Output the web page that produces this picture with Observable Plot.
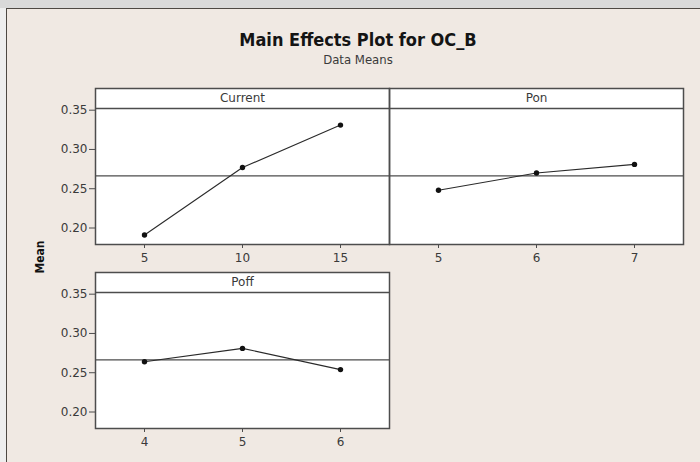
<!DOCTYPE html>
<html>
<head>
<meta charset="utf-8">
<script src="https://cdn.jsdelivr.net/npm/d3@7"></script>
<script src="https://cdn.jsdelivr.net/npm/@observablehq/plot@0.6"></script>
<style>
  html, body { margin: 0; padding: 0; }
  body { width: 700px; height: 462px; overflow: hidden; position: relative; background: #d9d9d9; font-family: "DejaVu Sans", sans-serif; }
  #leftstrip { position: absolute; left: 0; top: 8px; width: 6px; height: 454px; background: #eeeeee; }
  #panel { position: absolute; left: 6px; top: 8px; width: 700px; height: 460px; background: #f0e9e3; border-left: 1.5px solid #4d4843; border-top: 1.5px solid #4d4843; }
  #title { position: absolute; left: 0; width: 716px; top: 30px; text-align: center; font: bold 18px "DejaVu Sans Condensed", "DejaVu Sans", sans-serif; color: #141414; line-height: 20px; }
  #subtitle { position: absolute; left: 0; width: 716px; top: 53px; text-align: center; font: 13px "DejaVu Sans Condensed", "DejaVu Sans", sans-serif; color: #3a3a3a; line-height: 14px; }
  #ylabel { position: absolute; left: 40px; top: 257px; transform: translate(-50%, -50%) rotate(-90deg); font: bold 12px "DejaVu Sans Condensed", "DejaVu Sans", sans-serif; color: #111; white-space: nowrap; }
  #chart { position: absolute; left: 0; top: 70px; }
</style>
</head>
<body>
<div id="leftstrip"></div>
<div id="panel"></div>
<div id="title">Main Effects Plot for OC_B</div>
<div id="subtitle">Data Means</div>
<div id="ylabel">Mean</div>
<div id="chart"></div>
<script>
// ---- data ----
const factors = ["Current", "Pon", "Poff"];
const currentLevels = [5, 10, 15];
const currentMeans = [0.191, 0.277, 0.331];
const ponLevels = [5, 6, 7];
const ponMeans = [0.248, 0.270, 0.281];
const poffLevels = [4, 5, 6];
const poffMeans = [0.264, 0.281, 0.254];
const yTicks = [0.20, 0.25, 0.30, 0.35];

// panel placement (column, row) for each factor
const panelCols = ["a", "b", "a"];
const panelRows = ["top", "top", "bottom"];

const levelsByFactor = [currentLevels, ponLevels, poffLevels];
const meansByFactor = [currentMeans, ponMeans, poffMeans];

const rows = [];
factors.forEach((f, k) => {
  levelsByFactor[k].forEach((lv, i) => {
    rows.push({factor: f, col: panelCols[k], row: panelRows[k], idx: i, level: String(lv), mean: meansByFactor[k][i]});
  });
});
const strips = factors.map((f, k) => ({factor: f, col: panelCols[k], row: panelRows[k]}));
const grandMean = d3.mean(meansByFactor.flat());

const yDomain = [0.179, 0.3776];

const chart = Plot.plot({
  width: 700,
  height: 392,
  marginLeft: 94.5,
  marginRight: 17,
  marginTop: 17.3,
  marginBottom: 34.3,
  style: {background: "transparent", fontFamily: "DejaVu Sans, sans-serif", fontSize: "12px", color: "#3a3a3a"},
  x: {domain: [-0.5, 2.5], axis: null},
  y: {domain: yDomain, axis: null},
  fx: {domain: ["a", "b"], padding: 0, axis: null},
  fy: {domain: ["top", "bottom"], paddingInner: 0.154, paddingOuter: 0, axis: null},
  marks: [
    Plot.frame({fill: "white", stroke: null}),
    Plot.ruleY([yDomain[1]], {dy: 20, stroke: "#4d4d4d", strokeWidth: 1.3}),
    Plot.ruleY([grandMean], {stroke: "#4d4d4d", strokeWidth: 1.3}),
    Plot.line(rows, {x: "idx", y: "mean", fx: "col", fy: "row", z: "factor", stroke: "#2a2a2a", strokeWidth: 1.1}),
    Plot.dot(rows, {x: "idx", y: "mean", fx: "col", fy: "row", r: 2.7, fill: "#111", stroke: null}),
    Plot.text(strips, {fx: "col", fy: "row", text: "factor", frameAnchor: "top", lineAnchor: "middle", dy: 10, fill: "#3a3a3a", fontSize: 12}),
    Plot.ruleX(rows, {x: "idx", fx: "col", fy: "row", y1: () => yDomain[0], y2: () => yDomain[0], insetBottom: -4, stroke: "#4d4d4d"}),
    Plot.text(rows, {x: "idx", fx: "col", fy: "row", text: "level", frameAnchor: "bottom", lineAnchor: "middle", dy: 14, fill: "#3a3a3a", fontSize: 12}),
    Plot.axisY(yTicks, {tickFormat: ".2f", tickSize: 6, tickPadding: 2, label: null, fontSize: 12, color: "#3a3a3a", stroke: "#4d4d4d"}),
    Plot.frame({stroke: "#4d4d4d", strokeWidth: 1.5})
  ]
});
document.getElementById("chart").appendChild(chart);
</script>
</body>
</html>
